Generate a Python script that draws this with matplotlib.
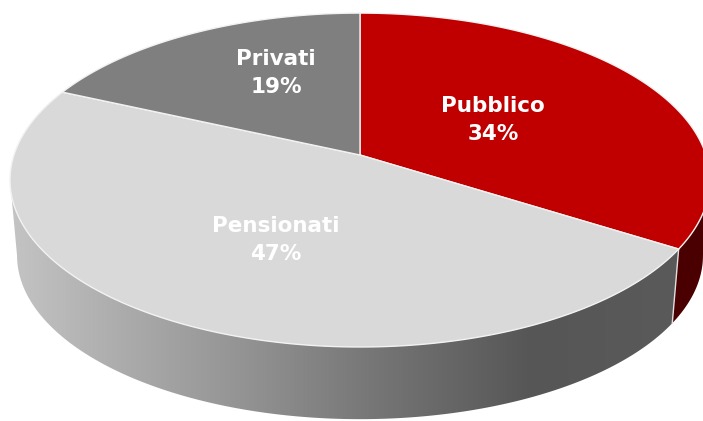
import numpy as np
import matplotlib
matplotlib.use('Agg')
import matplotlib.pyplot as plt
from matplotlib.colors import LinearSegmentedColormap
from matplotlib.patches import Polygon

# slices, clockwise from 12 o'clock
labels = ['Pubblico', 'Pensionati', 'Privati']
shares = [33.9, 47.8, 18.3]   # as drawn in the picture
pct_labels = ['34%', '47%', '19%']
colors = ['#C00000', '#D9D9D9', '#7F7F7F']

cx, cy = 360, 155      # apex of the top face, in pixels
bx, ay, k = 346, 163.2, 0.15  # perspective of the tilted disc
depth, shrink = 76, 0.98

label_xy = {'Pubblico': (493, 120), 'Pensionati': (276, 240), 'Privati': (276, 73)}


def top_pts(theta):
    u, v = np.sin(theta), np.cos(theta)
    return cx + bx * u / (1 + k * v), cy - ay * v / (1 + k * v)


def bottom_pts(theta):
    x, y = top_pts(theta)
    return cx + shrink * (x - cx), cy + depth + shrink * (y - cy)


def wall_poly(t0, t1):
    th = np.linspace(t0, t1, 200)
    xt, yt = top_pts(th)
    xb, yb = bottom_pts(th)
    return np.column_stack([np.r_[xt, xb[::-1]], np.r_[yt, yb[::-1]]])


fig = plt.figure(figsize=(7.03, 4.21), dpi=100)
ax = fig.add_axes([0, 0, 1, 1])
ax.set_xlim(0, 703)
ax.set_ylim(421, 0)
ax.axis('off')

edges = np.r_[0, np.cumsum(shares)] / sum(shares) * 2 * np.pi
side_a = np.arccos(-k)   # where the rim is widest, right side

# dark red side of the first slice
wall = Polygon(wall_poly(side_a, edges[1]), fc='#4A0000', ec='none', zorder=1)
ax.add_patch(wall)

# grey side with the left to right gradient
cmap = LinearSegmentedColormap.from_list('side', [
    (0.0, '#C4C4C4'), (0.15, '#AEAEAE'), (0.35, '#939393'),
    (0.55, '#757575'), (0.78, '#565656'), (1.0, '#5A5A5A')])
grad = np.linspace(0, 1, 256).reshape(1, -1)
im = ax.imshow(grad, extent=[10, 680, 421, 0], cmap=cmap, aspect='auto', zorder=2)
clip = Polygon(wall_poly(edges[1], 2 * np.pi - side_a), transform=ax.transData)
im.set_clip_path(clip)
ax.set_xlim(0, 703)
ax.set_ylim(421, 0)

# seam between the two side walls
x0, y0 = top_pts(edges[1])
x1, y1 = bottom_pts(edges[1])
ax.plot([x0, x1], [y0, y1], color='#E0E0E0', lw=1, zorder=3)

# top face
for i in range(len(shares)):
    th = np.linspace(edges[i], edges[i + 1], 200)
    x, y = top_pts(th)
    pts = np.column_stack([np.r_[cx, x], np.r_[cy, y]])
    ax.add_patch(Polygon(pts, fc=colors[i], ec='#F2F2F2', lw=1, joinstyle='round', zorder=4))

for lab, pct in zip(labels, pct_labels):
    lx, ly = label_xy[lab]
    ax.text(lx, ly, f'{lab}\n{pct}', color='white', fontsize=15.5,
            fontweight='bold', family='DejaVu Sans', ha='center', va='center',
            linespacing=1.45, zorder=5)

fig.savefig('out.png', dpi=100)
